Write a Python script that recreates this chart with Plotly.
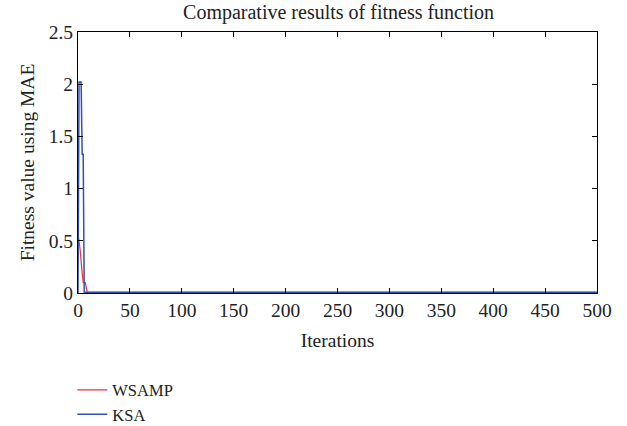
import plotly.graph_objects as go

wsamp_x = [0, 1, 2, 3, 4, 5, 6, 7, 8, 9, 500]
wsamp_y = [0.57, 0.5, 0.42, 0.3, 0.16, 0.1, 0.1, 0.1, 0.05, 0.006, 0.006]
ksa_x = [0, 1, 2, 3, 4, 5, 6, 500]
ksa_y = [0.0, 2.02, 2.02, 2.02, 1.33, 1.33, 0.006, 0.006]

x_ticks = [0, 50, 100, 150, 200, 250, 300, 350, 400, 450, 500]
y_ticks = [0, 0.5, 1, 1.5, 2, 2.5]

font = "Liberation Serif"
fs = 19.5
tc = "#222"
fig = go.Figure()
fig.add_trace(go.Scatter(x=wsamp_x, y=wsamp_y, mode="lines", name="WSAMP",
                         line=dict(color="#e8333a", width=1.2)))
fig.add_trace(go.Scatter(x=ksa_x, y=ksa_y, mode="lines", name="KSA",
                         line=dict(color="#3550b0", width=1.5)))

axis_common = dict(showline=True, linecolor="black", linewidth=1, mirror="ticks",
                   ticks="inside", ticklen=5, tickcolor="black", showgrid=False,
                   zeroline=False, tickfont=dict(family=font, size=fs, color=tc))
fig.update_xaxes(range=[0, 500], tickvals=x_ticks, ticktext=[str(v) for v in x_ticks],
                 title=dict(text="Iterations", font=dict(family=font, size=fs, color=tc), standoff=12),
                 **axis_common)
fig.update_yaxes(range=[0, 2.5], tickvals=y_ticks, ticktext=["0", "0.5", "1", "1.5", "2", "2.5"],
                 title=dict(text="Fitness value using MAE", font=dict(family=font, size=fs, color=tc), standoff=8),
                 **axis_common)
fig.update_layout(
    width=627, height=426,
    margin=dict(l=78, r=30, t=32, b=133, autoexpand=False),
    plot_bgcolor="white", paper_bgcolor="white",
    title=dict(text="Comparative results of fitness function", x=0.54, xanchor="center",
               y=0.972, yanchor="middle", font=dict(family=font, size=20, color=tc)),
    legend=dict(x=-0.011, y=-0.305, xanchor="left", yanchor="top", orientation="v",
                font=dict(family=font, size=16.5, color=tc), tracegroupgap=0,
                bgcolor="rgba(0,0,0,0)"),
    showlegend=True,
)
fig.write_html("out.html")
